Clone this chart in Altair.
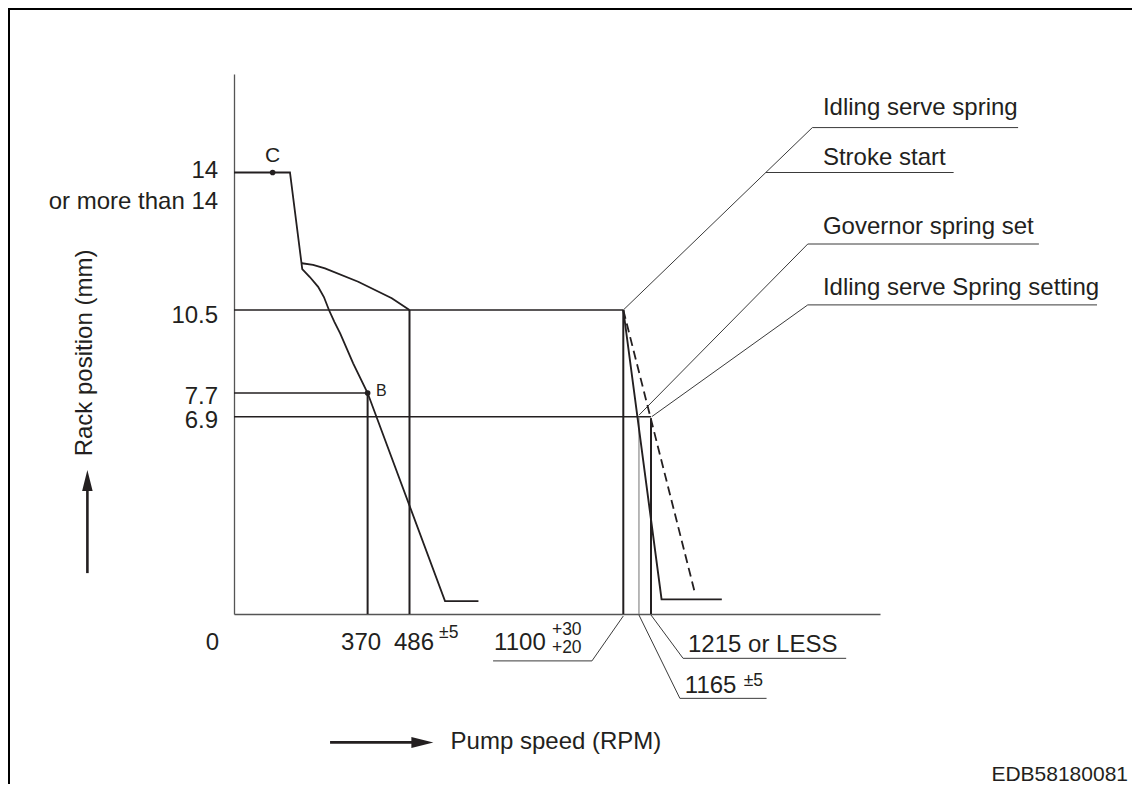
import altair as alt
import pandas as pd

# ---------------- values ----------------
# main governor curve: pump speed (rpm) vs rack position (mm)
main_rpm = [0, 155, 189, 210, 233, 249, 263, 278, 294, 330, 370, 588, 684]
main_mm = [14, 14, 11.54, 11.34, 11.09, 10.83, 10.5, 10.10, 9.71, 8.70, 7.7, 0.45, 0.45]

# torque-control branch
upper_rpm = [188, 219, 252, 344, 437, 486]
upper_mm = [11.69, 11.65, 11.56, 11.22, 10.80, 10.5]

# high-speed governor (solid) and idling spring (dashed)
high_rpm = [1100, 1245, 1416]
high_mm = [10.5, 0.51, 0.51]
dash_rpm = [1100, 1340]
dash_mm = [10.5, 0.72]

# marked points
pt_names = ["C", "B"]
pt_rpm = [107, 370]
pt_mm = [14, 7.7]

# setting lines (start rpm, start mm, end rpm, end mm)
set_x1 = [0, 0, 0, 370, 486, 1100, 1215]
set_y1 = [10.5, 7.7, 6.9, 7.7, 10.5, 10.5, 6.85]
set_x2 = [1100, 370, 1215, 370, 486, 1100, 1215]
set_y2 = [10.5, 7.7, 6.9, 0, 0, 0, 0]
set_kind = ["h", "h", "h", "v", "v", "v", "v"]
thin_x1 = [1165]
thin_y1 = [6.9]
thin_y2 = [0]

# call-out leader lines (polyline points)
callout_names = ["Idling serve spring", "Stroke start", "Governor spring set",
                 "Idling serve Spring setting", "1100", "1165", "1215"]
callout_rpm = [[1100, 1673, 2257], [1541, 2074], [1166, 1660, 2316],
               [1217, 1660, 2481], [1100, 1010, 726], [1165, 1297, 1543],
               [1215, 1306, 1769]]
callout_mm = [[10.5, 15.14, 15.14], [14.0, 14.0], [6.96, 12.18, 12.18],
              [6.9, 10.63, 10.63], [-0.07, -1.64, -1.64], [-0.035, -2.95, -2.95],
              [-0.035, -1.55, -1.55]]

# text annotations
txt_text = ["14", "or more than 14", "10.5", "7.7", "6.9",
            "0", "370", "486", "±5", "1100", "+30", "+20",
            "1215 or LESS", "1165", "±5",
            "Idling serve spring", "Stroke start", "Governor spring set",
            "Idling serve Spring setting", "C", "B",
            "Pump speed (RPM)", "EDB58180081"]
txt_rpm = [-44, -44, -44, -44, -44,
           -59.5, 352, 443, 571, 729, 895, 895,
           1320, 1311, 1478,
           1703, 1703, 1703, 1703, 107, 393,
           604, 2569]
txt_mm = [14.05, 13.24, 10.30, 7.58, 6.75,
          -1.0, -1.0, -1.0, -0.66, -1.0, -0.56, -1.20,
          -1.08, -2.52, -2.34,
          15.63, 14.36, 12.61, 11.05, 14.42, 7.76,
          -4.49, -5.63]
txt_size = [24, 24, 24, 24, 24,
            24, 24, 24, 17.5, 24, 17.5, 17.5,
            24, 24, 17.5,
            24, 24, 24, 24, 21, 16,
            24, 21]
txt_align = ["right"] * 5 + ["center", "center", "left", "left", "left", "left", "left",
             "left", "left", "left",
             "left", "left", "left", "left", "center", "left",
             "left", "right"]

# axis-direction arrows
xarrow_rpm = [266, 505]
xarrow_mm = [-4.49, -4.49]
xhead = (523, -4.49)
yarrow_rpm = [-406, -406]
yarrow_mm = [1.43, 4.6]
yhead = (-406, 4.67)

# ---------------- chart ----------------
INK = "#231f20"
FONT = "Liberation Sans"

XS = alt.Scale(domain=[0, 486, 1100, 1215, 1865],
               range=[0, 175.5, 389.3, 417, 646], nice=False, zero=False)
YS = alt.Scale(domain=[0, 6.9, 10.5, 14, 16.5],
               range=[540, 342.7, 236, 98.5, 0], nice=False, zero=False)
AX = alt.Axis(domain=True, domainColor="#555555", domainWidth=1.3, ticks=False,
              labels=False, grid=False, title=None)


def X(f="x"):
    return alt.X(f"{f}:Q", scale=XS, axis=AX)


def Y(f="y"):
    return alt.Y(f"{f}:Q", scale=YS, axis=AX)


def line_df(xs, ys):
    return pd.DataFrame({"x": xs, "y": ys, "i": list(range(len(xs)))})


main = alt.Chart(line_df(main_rpm, main_mm)).mark_line(
    color=INK, strokeWidth=1.8).encode(x=X(), y=Y(), order="i:Q")
upper = alt.Chart(line_df(upper_rpm, upper_mm)).mark_line(
    color=INK, strokeWidth=1.8).encode(x=X(), y=Y(), order="i:Q")
high = alt.Chart(line_df(high_rpm, high_mm)).mark_line(
    color=INK, strokeWidth=1.9).encode(x=X(), y=Y(), order="i:Q")
dash = alt.Chart(line_df(dash_rpm, dash_mm)).mark_line(
    color=INK, strokeWidth=1.8, strokeDash=[9, 5]).encode(x=X(), y=Y(), order="i:Q")

set_df = pd.DataFrame({"x": set_x1, "y": set_y1, "x2": set_x2, "y2": set_y2, "k": set_kind})
set_h = alt.Chart(set_df).transform_filter("datum.k == 'h'").mark_rule(
    color=INK, strokeWidth=1.6).encode(x=X(), y=Y(), x2="x2:Q", y2="y2:Q")
set_v = alt.Chart(set_df).transform_filter("datum.k == 'v'").mark_rule(
    color=INK, strokeWidth=2.0).encode(x=X(), y=Y(), x2="x2:Q", y2="y2:Q")
thin_df = pd.DataFrame({"x": thin_x1, "y": thin_y1, "y2": thin_y2})
thin = alt.Chart(thin_df).mark_rule(color="#8a8a8a", strokeWidth=1.2).encode(
    x=X(), y=Y(), y2="y2:Q")

rows = []
for name, xs, ys in zip(callout_names, callout_rpm, callout_mm):
    for i, (a, b) in enumerate(zip(xs, ys)):
        rows.append({"g": name, "x": a, "y": b, "i": i})
callouts = alt.Chart(pd.DataFrame(rows)).mark_line(
    color="#3a3a3a", strokeWidth=1.0).encode(x=X(), y=Y(), detail="g:N", order="i:Q")

pts = alt.Chart(pd.DataFrame({"n": pt_names, "x": pt_rpm, "y": pt_mm})).mark_point(
    filled=True, size=32, color=INK, opacity=1).encode(x=X(), y=Y())

txt_df = pd.DataFrame({"t": txt_text, "x": txt_rpm, "y": txt_mm, "s": txt_size, "a": txt_align})
text_layers = []
for al in ["left", "right", "center"]:
    text_layers.append(
        alt.Chart(txt_df).transform_filter(f"datum.a == '{al}'").mark_text(
            font=FONT, color=INK, align=al, baseline="middle").encode(
            x=X(), y=Y(), text="t:N", size=alt.Size("s:Q", scale=None)))

ytitle = alt.Chart(pd.DataFrame({"t": ["Rack position (mm)"], "x": [-413], "y": [9.05]})).mark_text(
    font=FONT, color=INK, fontSize=24, angle=270, align="center", baseline="middle").encode(
    x=X(), y=Y(), text="t:N")

xarrow = alt.Chart(line_df(xarrow_rpm, xarrow_mm)).mark_line(
    color=INK, strokeWidth=2.6).encode(x=X(), y=Y(), order="i:Q")
yarrow = alt.Chart(line_df(yarrow_rpm, yarrow_mm)).mark_line(
    color=INK, strokeWidth=2.6).encode(x=X(), y=Y(), order="i:Q")
xhead_l = alt.Chart(pd.DataFrame({"x": [xhead[0]], "y": [xhead[1]]})).mark_point(
    shape="M-1,-0.5L1,0L-1,0.5Z", filled=True, size=484, color=INK, opacity=1,
    strokeWidth=0).encode(x=X(), y=Y())
yhead_l = alt.Chart(pd.DataFrame({"x": [yhead[0]], "y": [yhead[1]]})).mark_point(
    shape="M-0.5,1L0,-1L0.5,1Z", filled=True, size=441, color=INK, opacity=1,
    strokeWidth=0).encode(x=X(), y=Y())

one = pd.DataFrame({"k": [0]})
frame_left = alt.Chart(one).mark_rule(color="#000000", strokeWidth=2).encode(
    x=alt.value(-225), y=alt.value(-66), y2=alt.value(710))
frame_top = alt.Chart(one).mark_rule(color="#000000", strokeWidth=2).encode(
    y=alt.value(-65), x=alt.value(-226), x2=alt.value(900))

chart = alt.layer(
    frame_left, frame_top,
    set_h, set_v, thin, callouts,
    main, upper, high, dash, pts,
    xarrow, yarrow, xhead_l, yhead_l,
    ytitle, *text_layers,
).properties(
    width=646, height=540,
    padding={"left": 226, "top": 66, "right": 252, "bottom": 170},
    autosize=alt.AutoSizeParams(type="none"),
    background="white",
).configure_view(stroke=None)

chart.save("out.html", embed_options={"renderer": "svg", "actions": False})
